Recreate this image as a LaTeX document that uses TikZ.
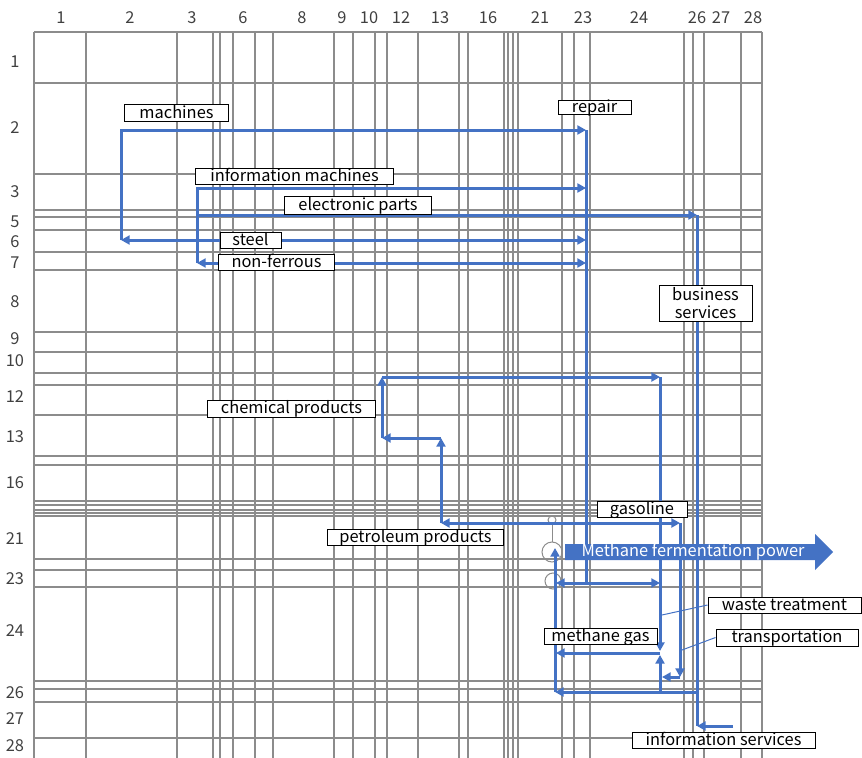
\documentclass[tikz,border=0pt]{standalone}
\usepackage{fontspec}
\setmainfont{Noto Sans CJK JP}
\usetikzlibrary{arrows.meta}
\definecolor{flowblue}{HTML}{4472C4}
\definecolor{gridgray}{HTML}{8C8C8C}
\tikzset{
  gridline/.style={draw=gridgray, line width=0.042cm},
  hdr/.style={text=black!75},
  lblbox/.style={draw=black, fill=white, line width=0.03cm, inner sep=0pt},
  lbl/.style={lblbox, text height=0.35cm, text depth=0.04cm},
  flowtip/.tip={Triangle[length=0.26cm,width=0.27cm]},
  flow/.style={draw=flowblue, line width=0.09cm, -flowtip},
  flowboth/.style={draw=flowblue, line width=0.09cm, flowtip-flowtip},
  flowline/.style={draw=flowblue, line width=0.09cm},
  pointer/.style={draw=flowblue, line width=0.03cm},
  scanmark/.style={draw=black!45, line width=0.03cm},
}
\begin{document}
\begin{tikzpicture}[x=0.03cm, y=-0.03cm]
  \useasboundingbox (0,0) rectangle (862,758);
  {\fontsize{14}{16}\selectfont

  % Drawing column lines of the table
  \foreach \x in {34,86,177,213,220,233,255,273,334,353,375,387,418,459,468,504,508,513,518,562,574,590,684,693,704,741,762}
    \draw [gridline] (\x,32) -- (\x,758);

  % Drawing row lines of the table
  \foreach \y in {32,83,174,210,217,230,252,270,332,352,373,385,415,456,465,501,505,510,513,516,559,570,587,681,689,702,738}
    \draw [gridline] (34,\y) -- (762,\y);

  % Marking column numbers
  \foreach \x/\t in {61/1,130/2,192/3,243/6,302/8,342/9,369/10,401/12,440/13,488/16,540/21,583/23,639/24,697/26,721/27,753/28}
    \node [hdr] (col\t) at (\x,18) {\t};

  % Marking row numbers
  \foreach \y/\t in {62/1,128/2,192/3,222/5,242/6,263/7,302/8,339/9,361/10,397/12,437/13,483/16,539/21,579/23,631/24,693/26,719/27,746/28}
    \node [hdr] (row\t) at (15,\y) {\t};

  % Marking scan traces near column 21
  \draw [scanmark] (552,552) circle (10);
  \draw [scanmark] (553,581) circle (8);
  \draw [scanmark] (552,520) circle (4);
  \draw [scanmark] (552,524) -- (552,542);

  % Points of the flow lines
  \coordinate (machL) at (121,130);
  \coordinate (machR) at (586,130);
  \coordinate (steelL) at (121,240);
  \coordinate (steelR) at (586,240);
  \coordinate (infoL) at (197,188);
  \coordinate (infoR) at (586,188);
  \coordinate (elecL) at (197,215);
  \coordinate (elecR) at (697,215);
  \coordinate (nonfL) at (197,263);
  \coordinate (nonfR) at (586,263);
  \coordinate (repairB) at (586,583);
  \coordinate (repairL) at (556,583);
  \coordinate (repairR) at (660,583);
  \coordinate (busB) at (697,726);
  \coordinate (infsR) at (733,726);
  \coordinate (chemTL) at (382,377);
  \coordinate (chemTR) at (660,377);
  \coordinate (chemBL) at (382,438);
  \coordinate (chemBR) at (441,438);
  \coordinate (petroL) at (441,523);
  \coordinate (petroR) at (680,523);
  \coordinate (gasB) at (680,677);
  \coordinate (wasteC) at (662,677);
  \coordinate (wasteDn) at (660,651);
  \coordinate (wasteUp) at (660,655);
  \coordinate (wasteB) at (660,692);
  \coordinate (methR) at (660,653);
  \coordinate (methL) at (556,653);
  \coordinate (sumR) at (697,692);
  \coordinate (sumL) at (555,692);
  \coordinate (powerT) at (555,548);
  \coordinate (wastePt) at (662,615);
  \coordinate (transPt) at (682,650);

  % Drawing flows of the upper block
  \draw [flow] (steelL) -- (machL) -- (machR);
  \draw [flowboth] (steelR) -- (steelL);
  \draw [flow] (nonfL) -- (infoL) -- (infoR);
  \draw [flow] (elecL) -- (elecR);
  \draw [flowboth] (nonfR) -- (nonfL);
  \draw [flowline] (machR) -- (repairB);
  \draw [flowboth] (repairL) -- (repairR);
  \draw [flowline] (elecR) -- (busB);
  \draw [flow] (infsR) -- (busB);

  % Drawing flows of the lower block
  \draw [flow] (chemBL) -- (chemTL);
  \draw [flow] (chemTL) -- (chemTR);
  \draw [flow] (chemTR) -- (wasteDn);
  \draw [flow] (wasteB) -- (wasteUp);
  \draw [flow] (methR) -- (methL);
  \draw [flow] (chemBR) -- (chemBL);
  \draw [flow] (petroL) -- (chemBR);
  \draw [flowboth] (petroL) -- (petroR);
  \draw [flow] (petroR) -- (gasB);
  \draw [flow] (gasB) -- (wasteC);
  \draw [flow] (sumR) -- (sumL);
  \draw [flow] (sumL) -- (powerT);

  % Drawing the power arrow
  \fill [flowblue] (565,544) -- (815,544) -- (815,534) -- (833,552) -- (815,570) -- (815,560) -- (565,560) -- cycle;
  \node [text=white] (power) at (693,552) {Methane fermentation power};

  % Marking labels
  \node [lbl, minimum width=3.09cm, minimum height=0.48cm] (machines) at (176.5,113) {machines};
  \node [lbl, minimum width=2.19cm, minimum height=0.39cm] (repair) at (594.5,107.5) {repair};
  \node [lbl, minimum width=5.91cm, minimum height=0.48cm] (infomach) at (294.5,176) {information machines};
  \node [lbl, minimum width=4.38cm, minimum height=0.54cm] (elec) at (358,205) {electronic parts};
  \node [lbl, minimum width=1.83cm, minimum height=0.48cm] (steel) at (250.5,240) {steel};
  \node [lbl, minimum width=3.45cm, minimum height=0.48cm] (nonf) at (276.5,262) {non-ferrous};
  \node [lblbox, minimum width=2.79cm, minimum height=1.08cm, align=center] (business) at (705.5,303) {business\\services};
  \node [lbl, minimum width=5.01cm, minimum height=0.51cm] (chem) at (291.5,408.5) {chemical products};
  \node [lbl, minimum width=5.25cm, minimum height=0.48cm] (petro) at (415.5,537) {petroleum products};
  \node [lbl, minimum width=2.70cm, minimum height=0.48cm] (gas) at (642,509) {gasoline};
  \node [lbl, minimum width=4.59cm, minimum height=0.48cm] (waste) at (784.5,605) {waste treatment};
  \node [lbl, minimum width=3.39cm, minimum height=0.48cm] (methane) at (600.5,636) {methane gas};
  \node [lbl, minimum width=4.26cm, minimum height=0.51cm] (trans) at (787,637.5) {transportation};
  \node [lbl, minimum width=5.49cm, minimum height=0.48cm] (infoserv) at (723.5,740) {information services};

  % Drawing pointers to the labels
  \draw [pointer] (wastePt) -- (waste.west);
  \draw [pointer] (transPt) -- (trans.west);
  }
\end{tikzpicture}
\end{document}
